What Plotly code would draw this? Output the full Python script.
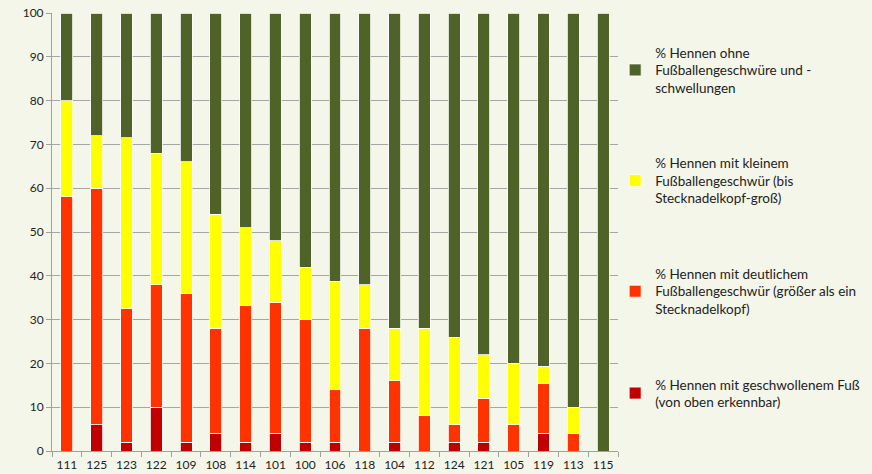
import plotly.graph_objects as go

categories = ["111", "125", "123", "122", "109", "108", "114", "101", "100", "106",
              "118", "104", "112", "124", "121", "105", "119", "113", "115"]

swollen = [0, 6, 2, 10, 2, 4, 2, 4, 2, 2, 0, 2, 0, 2, 2, 0, 4, 0, 0]
distinct = [58, 54, 30.5, 28, 34, 24, 31.3, 30, 28, 12, 28, 14, 8, 4, 10, 6, 11.3, 4, 0]
small = [22, 12, 39, 30, 30, 26, 17.7, 14, 12, 24.7, 10, 12, 20, 20, 10, 14, 4, 6, 0]
none = [20, 28, 28.5, 32, 34, 46, 49, 52, 58, 61.3, 62, 72, 72, 74, 78, 80, 80.7, 90, 100]

names = [
    "% Hennen mit geschwollenem Fuß<br>(von oben erkennbar)",
    "% Hennen mit deutlichem<br>Fußballengeschwür (größer als ein<br>Stecknadelkopf)",
    "% Hennen mit kleinem<br>Fußballengeschwür (bis<br>Stecknadelkopf-groß)",
    "% Hennen ohne<br>Fußballengeschwüre und -<br>schwellungen",
]
colors = ["#C00000", "#FF3300", "#FFFF00", "#4F6228"]
series = [swollen, distinct, small, none]

fig = go.Figure()
for i, (nm, col, vals) in enumerate(zip(names, colors, series)):
    fig.add_trace(go.Bar(
        x=categories, y=vals, name=nm, legendgroup=f"g{i}",
        legendrank=1000 - i,
        marker=dict(color=col, line=dict(color="white", width=0.8)),
    ))

bg = "#F5F6EA"
fig.update_layout(
    width=872, height=474,
    barmode="stack", bargap=0.6,
    paper_bgcolor=bg, plot_bgcolor=bg,
    margin=dict(l=52, r=254, t=13, b=23, autoexpand=False),
    font=dict(family="Lato", size=12, color="#222222"),
    showlegend=True,
    legend=dict(
        traceorder="grouped", tracegroupgap=55,
        x=0.995, y=0.945, xanchor="left", yanchor="top",
        font=dict(family="Lato", size=13.5, color="#222222"),
        bgcolor="rgba(0,0,0,0)", itemwidth=30,
    ),
    xaxis=dict(
        type="category", showgrid=False, showline=True, linecolor="#A0A0A0",
        ticks="outside", tickson="boundaries", ticklen=5, tickcolor="#A0A0A0",
        tickfont=dict(size=12), tickangle=0, fixedrange=True,
        ticklabelstandoff=3,
    ),
    yaxis=dict(
        range=[0, 100], dtick=10, showgrid=True, gridcolor="#A6A6A6", gridwidth=1,
        showline=True, linecolor="#A0A0A0", ticks="outside", ticklen=5,
        tickcolor="#A0A0A0", tickfont=dict(size=12), zeroline=False,
    ),
)

fig.write_html(
    "out.html",
    config={"displayModeBar": False},
    post_script="document.body.style.margin='0';document.body.style.padding='0';",
)
